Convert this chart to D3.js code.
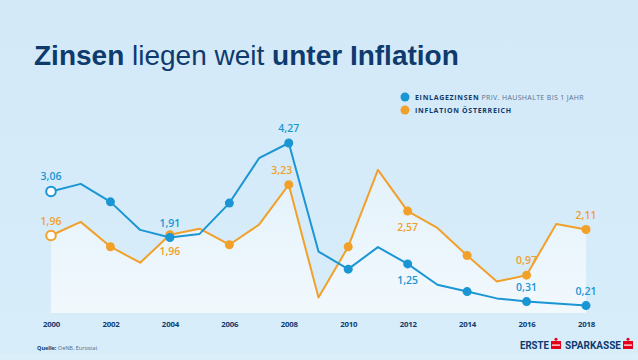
<!DOCTYPE html>
<html><head><meta charset="utf-8">
<script src="https://cdn.jsdelivr.net/npm/d3@7"></script>
<style>
html,body{margin:0;padding:0;background:#d5ebf9;}
svg{display:block;}
</style></head>
<body>
<svg id="c" width="638" height="360"></svg>
<script>
// ---- data ----
const years = d3.range(2000, 2019);
const tickYears = [2000, 2002, 2004, 2006, 2008, 2010, 2012, 2014, 2016, 2018];
const tickLabels = ["2000","2002","2004","2006","2008","2010","2012","2014","2016","2018"];
const depositRates = [3.06, 3.25, 2.80, 2.10, 1.91, 2.00, 2.77, 3.89, 4.27, 1.56, 1.12, 1.67, 1.25, 0.73, 0.56, 0.39, 0.31, 0.26, 0.21];
const inflation = [1.96, 2.30, 1.68, 1.28, 1.98, 2.13, 1.73, 2.23, 3.23, 0.41, 1.68, 3.60, 2.57, 2.15, 1.46, 0.81, 0.97, 2.25, 2.11];
const depositLabels = [
  {year: 2000, text: "3,06", pos: "above"},
  {year: 2004, text: "1,91", pos: "above"},
  {year: 2008, text: "4,27", pos: "above"},
  {year: 2012, text: "1,25", pos: "below"},
  {year: 2016, text: "0,31", pos: "above"},
  {year: 2018, text: "0,21", pos: "above"}
];
const inflationLabels = [
  {year: 2000, text: "1,96", pos: "above"},
  {year: 2004, text: "1,96", pos: "below"},
  {year: 2008, text: "3,23", pos: "above-left"},
  {year: 2012, text: "2,57", pos: "below"},
  {year: 2016, text: "0,97", pos: "above"},
  {year: 2018, text: "2,11", pos: "above"}
];
const titleParts = [
  {text: "Zinsen", bold: true},
  {text: " liegen weit ", bold: false},
  {text: "unter Inflation", bold: true}
];
const legendItems = [
  {bold: "EINLAGEZINSEN", rest: " PRIV. HAUSHALTE BIS 1 JAHR"},
  {bold: "INFLATION ÖSTERREICH", rest: ""}
];

// ---- styles ----
const BLUE = "#1a96d4", ORANGE = "#f1a02a", NAVY = "#0f3a6e";

const svg = d3.select("#c");
const defs = svg.append("defs");
const bg = defs.append("linearGradient").attr("id","bg").attr("x1",0).attr("y1",0).attr("x2",0).attr("y2",1);
bg.append("stop").attr("offset","0%").attr("stop-color","#d3e9f8");
bg.append("stop").attr("offset","100%").attr("stop-color","#d8edfa");
const ag = defs.append("linearGradient").attr("id","ag").attr("x1",0).attr("y1",0).attr("x2",0).attr("y2",1);
ag.append("stop").attr("offset","0%").attr("stop-color","#ffffff").attr("stop-opacity",0.35);
ag.append("stop").attr("offset","100%").attr("stop-color","#ffffff").attr("stop-opacity",0.65);

svg.append("rect").attr("width",638).attr("height",360).attr("fill","url(#bg)");
svg.append("rect").attr("x",0).attr("y",354).attr("width",638).attr("height",6).attr("fill","#dbeffb");

// title
const title = svg.append("text").attr("x",34).attr("y",65)
  .attr("font-family","'Liberation Sans', Arial, sans-serif").attr("font-size",28).attr("fill",NAVY);
titleParts.forEach(p => title.append("tspan").attr("font-weight", p.bold ? "bold" : "normal").text(p.text));

// scales
const x = d3.scaleLinear().domain([2000, 2018]).range([51, 586]);
const y = d3.scaleLinear().domain([0, 4.27]).range([314, 143]);

// area under inflation
const area = d3.area().x((d,i)=>x(years[i])).y0(y(0) - 1).y1(d=>y(d));
svg.append("path").datum(inflation).attr("d", area).attr("fill","url(#ag)");

// x axis (labels only)
const xAxis = d3.axisBottom(x).tickValues(tickYears).tickSize(0).tickPadding(0)
  .tickFormat((d,i)=>tickLabels[i]);
const gx = svg.append("g").attr("transform","translate(0,321)").call(xAxis);
gx.select(".domain").remove();
gx.selectAll("text").attr("font-family","'Open Sans', sans-serif").attr("font-weight","bold")
  .attr("font-size",7.8).attr("fill",NAVY).attr("letter-spacing",-0.2).attr("dy","0.71em");

const line = d3.line().x((d,i)=>x(years[i])).y(d=>y(d));
function drawSeries(vals, color) {
  svg.append("path").datum(vals).attr("d", line).attr("fill","none")
    .attr("stroke", color).attr("stroke-width", 2).attr("stroke-linejoin","round");
  const dots = years.map((yr,i)=>({yr, v: vals[i]})).filter(d => tickYears.includes(d.yr));
  svg.selectAll(null).data(dots).enter().append("circle")
    .attr("cx", d=>x(d.yr)).attr("cy", d=>y(d.v))
    .attr("r", d=> d.yr === 2000 ? 4.8 : 4.5)
    .attr("fill", d=> d.yr === 2000 ? "#ffffff" : color)
    .attr("stroke", color).attr("stroke-width", d=> d.yr === 2000 ? 2 : 0);
}
drawSeries(inflation, ORANGE);
drawSeries(depositRates, BLUE);

function drawLabels(labels, vals, color) {
  svg.selectAll(null).data(labels).enter().append("text")
    .attr("x", d=>x(d.year) + (d.pos === "above-left" ? -7 : 0))
    .attr("y", d=>{ const v = vals[years.indexOf(d.year)]; return y(v) + (d.pos.startsWith("above") ? -11 : 20); })
    .attr("text-anchor","middle").attr("font-family","'Open Sans', sans-serif")
    .attr("font-weight",600).attr("font-size",10.5).attr("fill",color).text(d=>d.text);
}
drawLabels(depositLabels, depositRates, BLUE);
drawLabels(inflationLabels, inflation, ORANGE);

// legend
const legColors = [BLUE, ORANGE];
const lg = svg.append("g");
legendItems.forEach((it,i)=>{
  const cy = 97 + i*13;
  lg.append("circle").attr("cx",405).attr("cy",cy).attr("r",4.5).attr("fill",legColors[i]);
  const t = lg.append("text").attr("x",415).attr("y",cy+2.6)
    .attr("font-family","'Open Sans', sans-serif").attr("font-size",7);
  t.append("tspan").attr("font-weight","bold").attr("fill",NAVY).attr("letter-spacing",0.7).text(it.bold);
  if (it.rest) t.append("tspan").attr("fill","#5a7190").attr("letter-spacing",0.35).text(it.rest);
});

// source
const src = svg.append("text").attr("x",37).attr("y",350)
  .attr("font-family","'Open Sans', sans-serif").attr("font-size",5.5).attr("fill",NAVY);
src.append("tspan").attr("font-weight","bold").text("Quelle:");
src.append("tspan").attr("fill","#4f6a8f").text(" OeNB, Eurostat");

// logo
function sIcon(g, x0, y0) {
  g.append("rect").attr("x",x0).attr("y",y0+3).attr("width",10).attr("height",8).attr("fill","#e2001a");
  g.append("rect").attr("x",x0+1).attr("y",y0+6.5).attr("width",8).attr("height",1.2).attr("fill","#ffffff");
  g.append("circle").attr("cx",x0+5).attr("cy",y0+1.3).attr("r",1.5).attr("fill","#e2001a");
}
const logo = svg.append("g");
logo.append("text").attr("x",520).attr("y",349).attr("font-family","Roboto, sans-serif")
  .attr("font-weight","bold").attr("font-size",11.5).attr("fill",NAVY)
  .attr("textLength",29).attr("lengthAdjust","spacingAndGlyphs").text("ERSTE");
sIcon(logo, 551, 338);
logo.append("text").attr("x",565).attr("y",349).attr("font-family","Roboto, sans-serif")
  .attr("font-weight","bold").attr("font-size",11.5).attr("fill",NAVY)
  .attr("textLength",56).attr("lengthAdjust","spacingAndGlyphs").text("SPARKASSE");
sIcon(logo, 623, 338);
</script>
</body></html>
